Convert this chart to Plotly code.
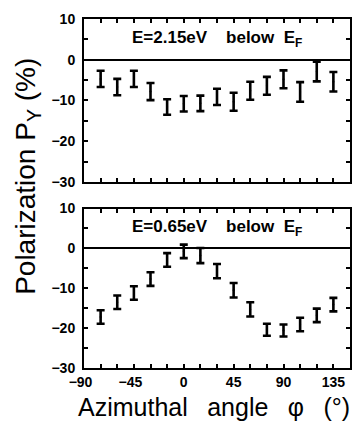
import plotly.graph_objects as go

# ---- data ----
angles = [-75, -60, -45, -30, -15, 0, 15, 30, 45, 60, 75, 90, 105, 120, 135]
pol_215 = [-4.7, -6.7, -4.7, -7.8, -11.6, -10.8, -10.7, -9.1, -10.3, -7.6, -6.4, -4.8, -7.9, -2.9, -5.4]
err_215 = [2.0, 2.0, 2.0, 2.1, 1.9, 1.9, 1.9, 2.0, 2.2, 2.2, 2.2, 2.2, 2.4, 2.4, 2.4]
pol_065 = [-17.2, -13.5, -11.2, -7.7, -2.9, -0.75, -1.8, -5.7, -10.5, -15.3, -20.4, -20.6, -19.1, -16.8, -14.1]
err_065 = [1.7, 1.7, 1.7, 1.7, 1.7, 1.7, 1.9, 1.8, 1.8, 1.8, 1.5, 1.5, 1.7, 1.7, 1.7]
x_tickvals = list(range(-90, 151, 15))
x_ticklabels = {-90: "\u221290\u2002", -45: "\u221245\u2002", 0: "0", 45: "45", 90: "90", 135: "135"}
y_tickvals = list(range(-30, 11, 5))
y_ticklabels = {-30: "\u221230", -20: "\u221220", -10: "\u221210", 0: "0", 10: "10"}
label_top = "E=2.15eV\u00a0\u00a0\u00a0\u00a0below\u00a0\u00a0E<sub>F</sub>"
label_bot = "E=0.65eV\u00a0\u00a0\u00a0\u00a0below\u00a0\u00a0E<sub>F</sub>"
x_title = "Azimuthal\u2002\u00a0angle\u2002\u00a0\u03c6\u2002\u00a0(\u00b0)"
y_title = "Polarization\u00a0P<sub>Y</sub>\u00a0(%)"

tickfont = dict(family="Liberation Sans", size=14, color="black", weight="bold")

fig = go.Figure()
for ys, es, xa, ya in [(pol_215, err_215, "x", "y"), (pol_065, err_065, "x2", "y2")]:
    fig.add_trace(go.Scatter(
        x=angles, y=ys, mode="markers", xaxis=xa, yaxis=ya,
        marker=dict(size=2, color="black"),
        error_y=dict(type="data", array=es, visible=True, width=4, thickness=2.6, color="black"),
        showlegend=False, hoverinfo="skip"))

def xaxis(anchor, labels):
    return dict(
        domain=[0, 1], anchor=anchor, range=[-90, 150],
        tickvals=x_tickvals,
        ticktext=[x_ticklabels.get(v, "") if labels else "" for v in x_tickvals],
        ticks="inside", ticklen=4, tickwidth=1.5, tickcolor="black",
        showline=True, linewidth=2, linecolor="black", mirror="ticks",
        showgrid=False, zeroline=False, tickfont=tickfont, showticklabels=labels)

def yaxis(anchor, dom):
    return dict(
        domain=dom, anchor=anchor, range=[-30, 10],
        tickvals=y_tickvals,
        ticktext=[y_ticklabels.get(v, "") for v in y_tickvals],
        ticks="inside", ticklen=4, tickwidth=1.5, tickcolor="black",
        showline=True, linewidth=2, linecolor="black", mirror="ticks",
        showgrid=False, zeroline=True, zerolinewidth=2, zerolinecolor="black",
        tickfont=tickfont, ticklabelstandoff=4)

fig.update_layout(
    width=353, height=424,
    margin=dict(l=84, r=1, t=19, b=56),
    plot_bgcolor="white", paper_bgcolor="white",
    xaxis=xaxis("y", False), yaxis=yaxis("x", [0.533, 1.0]),
    xaxis2=xaxis("y2", True), yaxis2=yaxis("x2", [0.0, 0.457]),
    annotations=[
        dict(text=label_top, x=0.5, y=5, xref="x domain", yref="y", xanchor="center", yanchor="middle",
             showarrow=False, font=dict(family="Liberation Sans", size=17, color="black", weight="bold")),
        dict(text=label_bot, x=0.5, y=5, xref="x2 domain", yref="y2", xanchor="center", yanchor="middle",
             showarrow=False, font=dict(family="Liberation Sans", size=17, color="black", weight="bold")),
        dict(text=x_title,
             x=0.489, y=-0.112, xref="paper", yref="paper", xanchor="center", yanchor="middle",
             showarrow=False, font=dict(family="Liberation Sans", size=25, color="black")),
        dict(text=y_title,
             x=-0.215, y=0.550, xref="paper", yref="paper", xanchor="center", yanchor="middle",
             textangle=-90, showarrow=False, font=dict(family="Liberation Sans", size=28, color="black")),
    ],
)

fig.write_html("out.html", config={"displayModeBar": False},
               post_script="document.body.style.margin='0px';")
